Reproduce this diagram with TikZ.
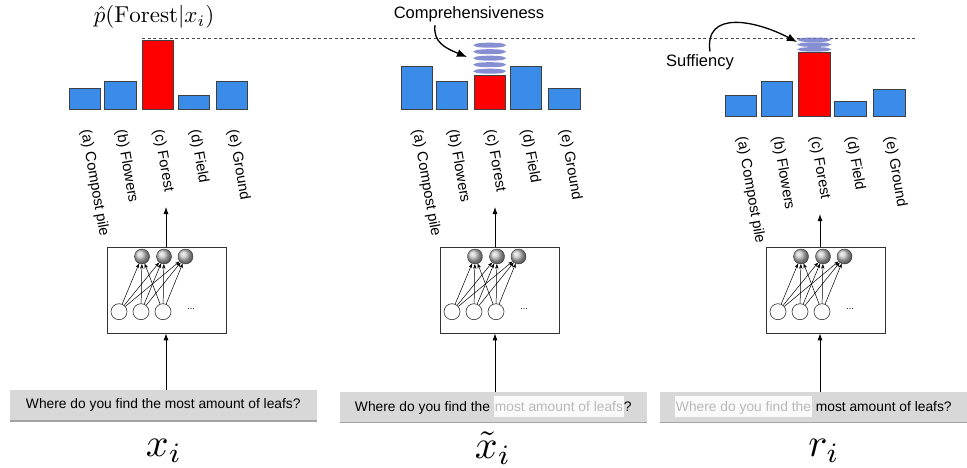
\documentclass[tikz,border=0pt]{standalone}
\usepackage{fontspec}
\newfontfamily\arial{Liberation Sans}
\usepackage{xcolor}
\usepackage{tikz}
\usetikzlibrary{positioning}
\usetikzlibrary{arrows.meta}
\usetikzlibrary{shadows}

\definecolor{barblue}{RGB}{59,139,232}
\definecolor{springblue}{RGB}{105,115,200}
\definecolor{boxgray}{RGB}{216,216,216}

\newcommand{\faded}[1]{{\setlength{\fboxsep}{1pt}\colorbox{white!96!gray}{\textcolor{gray!55}{\rule[-5pt]{0pt}{19pt}#1}}}}

\begin{document}
\begin{tikzpicture}[x=1pt,y=-1pt,
  bar/.style={draw=black!75, line width=0.6pt},
  lab/.style={font=\arial\fontsize{14.7}{17}\selectfont, rotate=-80, anchor=west, inner sep=0pt},
  netbox/.style={draw=black!80, line width=0.7pt, minimum width=119pt, minimum height=86pt},
  outnode/.style={circle, draw=black!80, shading=ball, ball color=gray!45, minimum size=15pt, inner sep=0pt},
  innode/.style={circle, draw=black!80, fill=white, minimum size=16pt, inner sep=0pt, line width=0.6pt},
  link/.style={-{Stealth[length=4.5pt,width=3.5pt]}, line width=0.5pt},
  flow/.style={-{Latex[length=7pt,width=5pt]}, line width=0.8pt},
  sentence/.style={font=\arial\fontsize{13.8}{16}\selectfont, fill=boxgray, minimum width=307pt, minimum height=30pt, inner sep=0pt, drop shadow={shadow xshift=0pt, shadow yshift=-1.5pt, fill=black!60, opacity=0.6}},
  coilband/.style={springblue, opacity=0.8, line width=2.4pt},
  note/.style={font=\arial\fontsize{16.5}{19}\selectfont},
  callout/.style={-{Latex[length=10pt,width=8pt]}, line width=1.3pt}
]

\useasboundingbox (0,0) rectangle (967,468);

\draw[black!70, line width=0.6pt, dash pattern=on 3pt off 2.5pt] (142,38.5) -- (915,38.5);

\foreach \xa/\xb/\yt in {69.3/100.7/88.3, 104.3/136/81.7, 178.3/209.7/95, 216.7/247.7/81.7}
\draw[bar, fill=barblue] (\xa,\yt) rectangle (\xb,109.3);
\draw[bar, fill=red] (142,40) rectangle (173.3,109.3);

\foreach \xa/\xb/\yt in {401/432.3/66, 436.7/467.7/81.7, 510/541.3/66, 548.3/580/88.3}
\draw[bar, fill=barblue] (\xa,\yt) rectangle (\xb,109.3);
\draw[bar, fill=red] (474,75) rectangle (505.3,109.3);

\foreach \xa/\xb/\yt in {725.3/756.7/95.7, 761/792.3/81.7, 834.7/866/101.7, 873.3/905/89}
\draw[bar, fill=barblue] (\xa,\yt) rectangle (\xb,116.7);
\draw[bar, fill=red] (798.3,52.3) rectangle (830,116.7);

\foreach \yc in {45.2, 51.7, 58.2, 64.7, 71.2}
\draw[coilband] (489.7,\yc) ellipse (13.8 and 1.3);
\foreach \yc in {39.8, 44.6, 49.4}
\draw[coilband] (814.2,\yc) ellipse (14 and 1.1);

\foreach \cx/\txt [count=\i] in {85/{(a) Compost pile}, 120.2/{(b) Flowers}, 157.7/{(c) Forest}, 194/{(d) Field}, 232.2/{(e) Ground}}
\node[lab] (la\i) at (\cx,130) {\txt};
\foreach \cx/\txt [count=\i] in {416.7/{(a) Compost pile}, 452.2/{(b) Flowers}, 489.7/{(c) Forest}, 525.7/{(d) Field}, 564.2/{(e) Ground}}
\node[lab] (lb\i) at (\cx,130) {\txt};
\foreach \cx/\txt [count=\i] in {741/{(a) Compost pile}, 776.7/{(b) Flowers}, 814.2/{(c) Forest}, 850.4/{(d) Field}, 889.2/{(e) Ground}}
\node[lab] (lc\i) at (\cx,137) {\txt};

\foreach \ox/\p in {107/1, 440/2, 766/3} {
  \node[netbox] (net\p) at (\ox+59.5,290) {};
  \foreach \k/\dx in {1/35, 2/57, 3/78.5}
  \node[outnode] (o\p\k) at (\ox+\dx,256.5) {};
  \foreach \k/\dx in {1/12, 2/34, 3/56}
  \node[innode] (i\p\k) at (\ox+\dx,311.7) {};
  \node[font=\arial\fontsize{9}{10}\selectfont] (dots\p) at (\ox+84,309) {...};
  \foreach \j in {1,2,3}
  \foreach \k in {1,2,3}
  \draw[link] (i\p\j) -- (o\p\k);
}

\node[sentence] (s1) at (163.3,405) {Where do you find the most amount of leafs?};
\node[sentence] (s2) at (493.3,406.7) {Where do you find the \faded{most amount of leafs}?};
\node[sentence] (s3) at (813.3,406.7) {\faded{Where do you find the} most amount of leafs?};

\coordinate (top1) at (166,207);
\coordinate (top2) at (495,207);
\coordinate (top3) at (820,214);
\foreach \p in {1,2,3} {
  \draw[flow] (top\p |- net\p.north) -- (top\p);
  \draw[flow] (top\p |- s\p.north) -- (top\p |- net\p.south);
}

\node[scale=2.3] (phat) at (154,17) {$\hat{p}(\mathrm{Forest}|x_i)$};
\node[scale=4] (x1) at (164,451) {$x_i$};
\node[scale=4] (x2) at (493,448) {$\tilde{x}_i$};
\node[scale=4] (x3) at (824,451) {$r_i$};

\node[note] (comp) at (469,14) {Comprehensiveness};
\coordinate (comptip) at (467,57);
\draw[callout] ([xshift=-34pt]comp.south) .. controls (433,42) and (445,48) .. (comptip);

\node[note] (suff) at (700,62.7) {Suffiency};
\coordinate (sufftip) at (797,42);
\draw[callout] ([xshift=10pt]suff.north) .. controls (704,10) and (755,20) .. (sufftip);

\end{tikzpicture}
\end{document}
